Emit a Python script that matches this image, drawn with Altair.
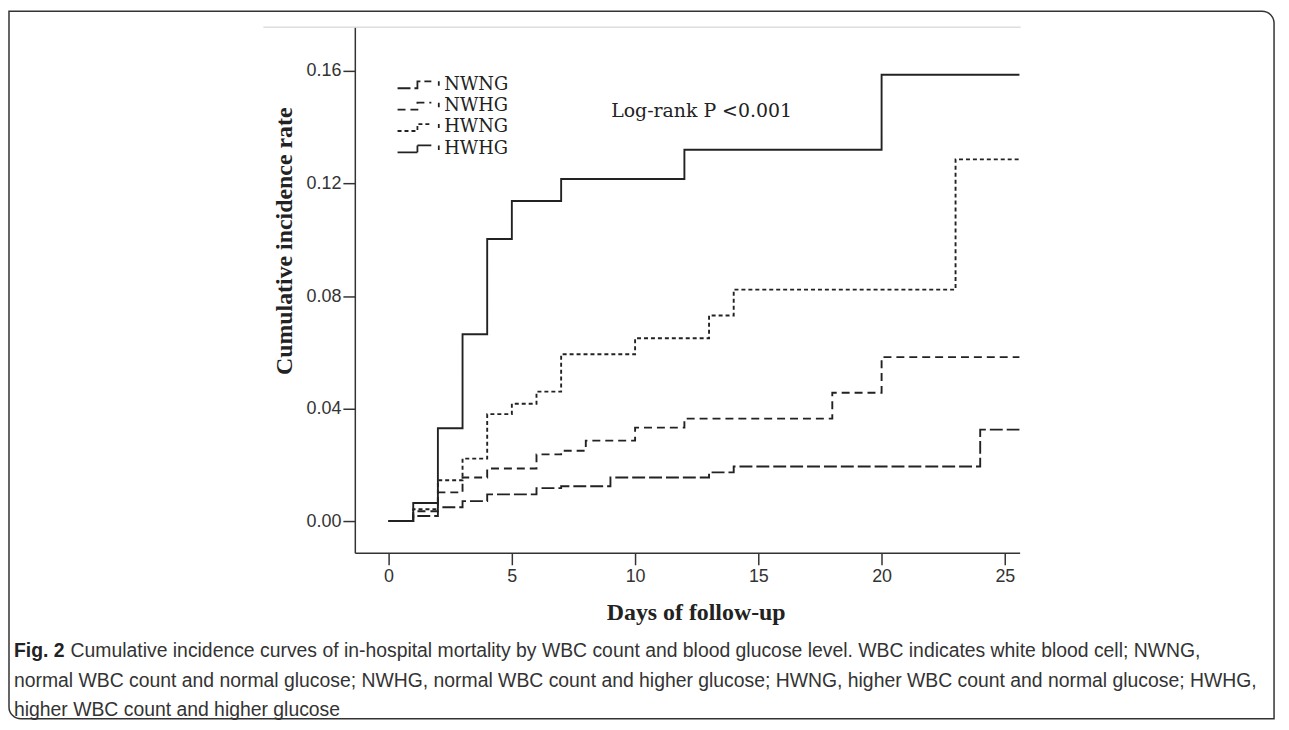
import altair as alt
import pandas as pd

groups = ["NWNG", "NWHG", "HWNG", "HWHG"]
dashes = [[13, 4], [8, 5], [4, 3], [1, 0]]

nwng_days = [0, 1, 2, 3, 4, 6, 7, 9, 13, 14, 24, 25.6]
nwng_vals = [0, 0.0018, 0.0049, 0.0071, 0.0095, 0.0117, 0.0124, 0.0155, 0.0173, 0.0194, 0.0325, 0.0325]
nwhg_days = [0, 1, 2, 3, 4, 6, 7, 8, 10, 12, 18, 20, 25.6]
nwhg_vals = [0, 0.0035, 0.0102, 0.0155, 0.0187, 0.0237, 0.025, 0.0286, 0.0332, 0.0364, 0.0456, 0.0583, 0.0583]
hwng_days = [0, 1, 2, 3, 4, 5, 6, 7, 10, 13, 14, 23, 25.6]
hwng_vals = [0, 0.0042, 0.0145, 0.0222, 0.038, 0.0417, 0.046, 0.0593, 0.065, 0.0731, 0.0823, 0.1286, 0.1286]
hwhg_days = [0, 1, 2, 3, 4, 5, 7, 12, 20, 25.6]
hwhg_vals = [0, 0.0064, 0.033, 0.0664, 0.1003, 0.1138, 0.1216, 0.132, 0.1587, 0.1587]

x_ticks = [0, 5, 10, 15, 20, 25]
y_ticks = [0, 0.04, 0.08, 0.12, 0.16]

x_title = "Days of follow-up"
y_title = "Cumulative incidence rate"
annot = "Log-rank P <0.001"
annot_day = [9.03]
annot_rate = [0.1456]

cap_bold = "Fig. 2"
cap1 = "Cumulative incidence curves of in-hospital mortality by WBC count and blood glucose level. WBC indicates white blood cell; NWNG,"
cap2 = "normal WBC count and normal glucose; NWHG, normal WBC count and higher glucose; HWNG, higher WBC count and normal glucose; HWHG,"
cap3 = "higher WBC count and higher glucose"

rows = []
for g, ds, vs in zip(groups, [nwng_days, nwhg_days, hwng_days, hwhg_days],
                     [nwng_vals, nwhg_vals, hwng_vals, hwhg_vals]):
    for d, v in zip(ds, vs):
        rows.append({"group": g, "day": d, "rate": v})
df = pd.DataFrame(rows)

xscale = alt.Scale(domain=[-1.37, 25.6], nice=False, zero=False)
yscale = alt.Scale(domain=[-0.0113, 0.1756], nice=False, zero=False)

INK = "#222222"
AX = "#333333"

sym_path = "M-2.1,0.35H-0.1V-0.35H1.3M2.05,-0.35V0.1"

lines = alt.Chart(df).mark_line(
    interpolate="step-after", strokeWidth=1.9, color=INK, clip=True
).encode(
    x=alt.X("day:Q", scale=xscale, axis=alt.Axis(
        values=x_ticks, title=x_title, grid=False,
        labelFont="Liberation Sans", labelFontSize=18, labelColor=AX, labelPadding=3,
        tickSize=12, tickWidth=1.5, tickColor=AX, domainColor=AX, domainWidth=1.5,
        titleFont="Liberation Serif", titleFontWeight="bold", titleFontSize=24, titleColor=INK,
        titleX=343, titleY=67, titleBaseline="alphabetic")),
    y=alt.Y("rate:Q", scale=yscale, axis=alt.Axis(
        values=y_ticks, format=".2f", title=y_title, grid=False,
        labelFont="Liberation Sans", labelFontSize=18, labelColor=AX, labelPadding=2,
        tickSize=12, tickWidth=1.5, tickColor=AX, domainColor=AX, domainWidth=1.5,
        titleFont="Liberation Serif", titleFontWeight="bold", titleFontSize=24, titleColor=INK,
        titleX=-64, titleY=215, titleAngle=270, titleBaseline="alphabetic")),
    strokeDash=alt.StrokeDash("group:N", scale=alt.Scale(domain=groups, range=dashes),
                              legend=alt.Legend(
                                  orient="none", legendX=53, legendY=47, title=None,
                                  symbolType=sym_path, symbolSize=400, symbolStrokeWidth=1.8,
                                  symbolStrokeColor=INK, symbolFillColor="transparent",
                                  labelFont="DejaVu Serif", labelFontSize=18, labelColor=INK,
                                  labelOffset=15, rowPadding=1.5, padding=0)),
)

annot_layer = alt.Chart(pd.DataFrame({"day": annot_day, "rate": annot_rate, "label": [annot]})).mark_text(
    align="left", baseline="middle", font="DejaVu Serif", fontSize=19, color=INK
).encode(x=alt.X("day:Q", scale=xscale), y=alt.Y("rate:Q", scale=yscale), text="label:N")

one = pd.DataFrame({"a": [0]})

border = alt.Chart(one).mark_rect(
    fillOpacity=0, stroke=AX, strokeWidth=1.5, cornerRadiusTopRight=12, cornerRadiusBottomLeft=12
).encode(x=alt.value(-348), x2=alt.value(925), y=alt.value(-16), y2=alt.value(696))

topline = alt.Chart(one).mark_rule(color="#cccccc", strokeWidth=1).encode(
    x=alt.value(-92), x2=alt.value(670), y=alt.value(0))

capfont = "Liberation Sans"
capsize = 19.5
c0 = alt.Chart(one).mark_text(text=cap_bold, align="left", baseline="middle", font=capfont,
                              fontSize=capsize, fontWeight="bold", color=INK).encode(
    x=alt.value(-343), y=alt.value(628))
c1 = alt.Chart(one).mark_text(text=cap1, align="left", baseline="middle", font=capfont,
                              fontSize=capsize, color=AX).encode(x=alt.value(-286), y=alt.value(628))
c2 = alt.Chart(one).mark_text(text=cap2, align="left", baseline="middle", font=capfont,
                              fontSize=capsize, color=AX).encode(x=alt.value(-343), y=alt.value(658))
c3 = alt.Chart(one).mark_text(text=cap3, align="left", baseline="middle", font=capfont,
                              fontSize=capsize, color=AX).encode(x=alt.value(-343), y=alt.value(687))

chart = alt.layer(border, topline, lines, annot_layer, c0, c1, c2, c3).properties(
    width=669, height=529,
    padding={"left": 349, "top": 17, "right": 263, "bottom": 176},
    autosize=alt.AutoSizeParams(type="none"),
).configure_view(strokeWidth=0)

chart.save("out.html", embed_options={"renderer": "svg", "actions": False})
